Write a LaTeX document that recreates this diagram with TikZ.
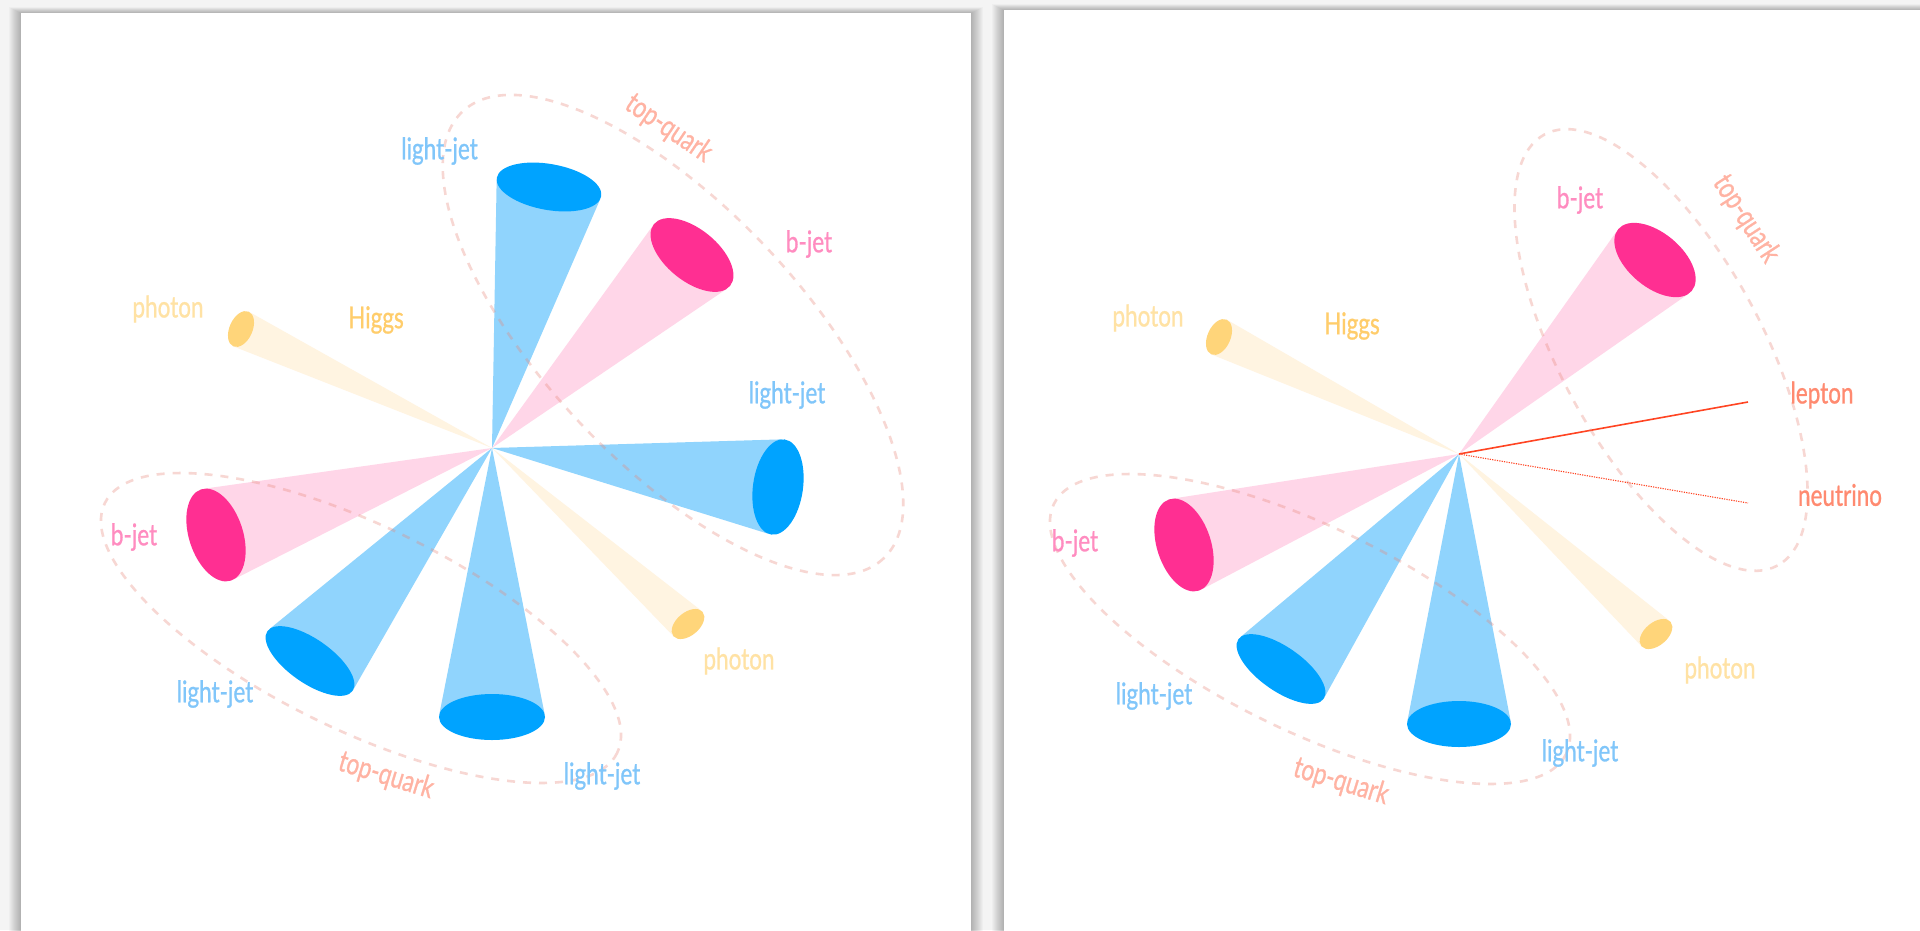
\documentclass[tikz,border=0pt]{standalone}
\usepackage{fontspec}
\setmainfont[FakeStretch=0.75,FakeBold=0.8]{Lato}
\usetikzlibrary{calc}

\definecolor{jetblue}{HTML}{90D4FD}
\definecolor{capblue}{HTML}{00A3FF}
\definecolor{jetpink}{HTML}{FFD6E8}
\definecolor{cappink}{HTML}{FF2F92}
\definecolor{jetgold}{HTML}{FFF4E1}
\definecolor{capgold}{HTML}{FFD57A}
\definecolor{ringred}{HTML}{E8887A}
\definecolor{lblblue}{HTML}{80C6FA}
\definecolor{lblpink}{HTML}{FF8CC0}
\definecolor{lblphoton}{HTML}{FFE2A4}
\definecolor{lblhiggs}{HTML}{FFCD6B}
\definecolor{lbltop}{HTML}{FFB3A3}
\definecolor{lbllep}{HTML}{FF8A70}
\definecolor{lepline}{HTML}{FF4422}
\definecolor{pagebg}{HTML}{F4F4F4}

% jet cone: #1,#2 vertex; #3,#4 cap centre; #5,#6 cap radii; #7 cap tilt;
% #8 cone colour; #9 cap colour.  The cone sides are tangent to the cap.
\newcommand\jetcone[9]{%
  \pgfmathsetmacro\jpx{#1-#3}%
  \pgfmathsetmacro\jpy{#2-#4}%
  \pgfmathsetmacro\jlx{(\jpx*cos(#7)+\jpy*sin(#7))/#5}%
  \pgfmathsetmacro\jly{(-\jpx*sin(#7)+\jpy*cos(#7))/#6}%
  \pgfmathsetmacro\jth{atan2(\jly,\jlx)}%
  \pgfmathsetmacro\jal{acos(1/sqrt(\jlx*\jlx+\jly*\jly))}%
  \begin{scope}[shift={(#3,#4)},rotate=#7]
    \fill[#8] ({\jlx*#5},{\jly*#6})
      -- ({#5*cos(\jth+\jal)},{#6*sin(\jth+\jal)})
      -- ({#5*cos(\jth-\jal)},{#6*sin(\jth-\jal)}) -- cycle;
    \fill[#9] (0,0) ellipse [x radius=#5, y radius=#6];
  \end{scope}}

% dashed grouping ring: centre, radii, tilt
\newcommand\grouping[5]{%
  \draw[ring, rotate around={#5:(#1,#2)}] (#1,#2) ellipse [x radius=#3, y radius=#4];}

\tikzset{
  ring/.style={draw=ringred, draw opacity=0.33, line width=2.6pt, dash pattern=on 8pt off 8pt},
  lbl/.style={inner sep=0pt, font=\fontsize{30}{32}\selectfont},
  panel/.style={fill=white},
}

\begin{document}
\begin{tikzpicture}[x=1pt,y=1pt,yscale=-1]
\useasboundingbox (0,0) rectangle (1920,930);
\fill[pagebg] (0,0) rectangle (1920,930);

% soft panel shadows
\foreach \k in {1,...,12}{
  \fill[black,opacity=0.022] (21-\k,13-0.5*\k) rectangle (971+\k,940);
  \fill[black,opacity=0.022] (1004-\k,10-0.5*\k) rectangle (1930,940);
}
\fill[panel] (21,13) rectangle (971,940);
\fill[panel] (1004,10) rectangle (1930,940);

% ---------------- left event ----------------
\coordinate (vL) at (492,448);
\jetcone{492}{448}{549}{187}{53}{23}{10}{jetblue}{capblue}
\jetcone{492}{448}{692}{255}{49}{26}{39}{jetpink}{cappink}
\jetcone{492}{448}{778}{487}{48}{25}{98}{jetblue}{capblue}
\jetcone{492}{448}{688}{624}{19}{11.5}{-40}{jetgold}{capgold}
\jetcone{492}{448}{492}{717}{53}{23}{0}{jetblue}{capblue}
\jetcone{492}{448}{310}{661}{52}{22}{35}{jetblue}{capblue}
\jetcone{492}{448}{216}{535}{48}{27}{72}{jetpink}{cappink}
\jetcone{492}{448}{241}{329}{19}{11.5}{114}{jetgold}{capgold}

\grouping{673}{335}{307}{128}{46.7}
\grouping{361}{628}{285}{102}{26}

\node[lbl, text=lblblue] (lj1) at (439.5,151) {light-jet};
\node[lbl, text=lbltop, rotate=-34] (tq1) at (668.6,128.5) {top-quark};
\node[lbl, text=lblpink] (bj1) at (809,244) {b-jet};
\node[lbl, text=lblblue] (lj2) at (787,395) {light-jet};
\node[lbl, text=lblphoton] (ph1) at (168,309) {photon};
\node[lbl, text=lblhiggs] (hg1) at (376,320) {Higgs};
\node[lbl, text=lblpink] (bj2) at (134,537) {b-jet};
\node[lbl, text=lblblue] (lj3) at (215,694) {light-jet};
\node[lbl, text=lblphoton] (ph2) at (739,661) {photon};
\node[lbl, text=lbltop, rotate=-17] (tq2) at (386,776) {top-quark};
\node[lbl, text=lblblue] (lj4) at (602,776) {light-jet};

% ---------------- right event ----------------
\coordinate (vR) at (1459,454);
\jetcone{1459}{454}{1655}{260}{48}{27}{40}{jetpink}{cappink}
\jetcone{1459}{454}{1656}{634}{19}{11.5}{-40}{jetgold}{capgold}
\jetcone{1459}{454}{1459}{724}{52}{23}{0}{jetblue}{capblue}
\jetcone{1459}{454}{1281}{669}{52}{22}{35}{jetblue}{capblue}
\jetcone{1459}{454}{1184}{545}{48}{27}{72}{jetpink}{cappink}
\jetcone{1459}{454}{1219}{337}{19}{11.5}{114}{jetgold}{capgold}

\coordinate (lepEnd) at (1748,402);
\coordinate (nuEnd) at (1748,503);
\draw[lepline, line width=1.6pt] (vR) -- (lepEnd);
\draw[lepline, line width=1.1pt, dash pattern=on 1.2pt off 1.2pt] (vR) -- (nuEnd);

\grouping{1661}{350}{245}{101}{61.6}
\grouping{1310}{629}{285}{102}{26}

\node[lbl, text=lblphoton] (ph3) at (1148,318) {photon};
\node[lbl, text=lblhiggs] (hg2) at (1352,326) {Higgs};
\node[lbl, text=lblpink] (bj3) at (1580,200) {b-jet};
\node[lbl, text=lbltop, rotate=-57] (tq3) at (1746,219) {top-quark};
\node[lbl, text=lbllep] (lep) at (1822,395) {lepton};
\node[lbl, text=lbllep] (nu) at (1840,495) {neutrino};
\node[lbl, text=lblpink] (bj4) at (1075,543) {b-jet};
\node[lbl, text=lblblue] (lj5) at (1154,696) {light-jet};
\node[lbl, text=lblblue] (lj6) at (1580,753) {light-jet};
\node[lbl, text=lblphoton] (ph4) at (1720,670) {photon};
\node[lbl, text=lbltop, rotate=-17] (tq4) at (1341,782) {top-quark};
\end{tikzpicture}
\end{document}
